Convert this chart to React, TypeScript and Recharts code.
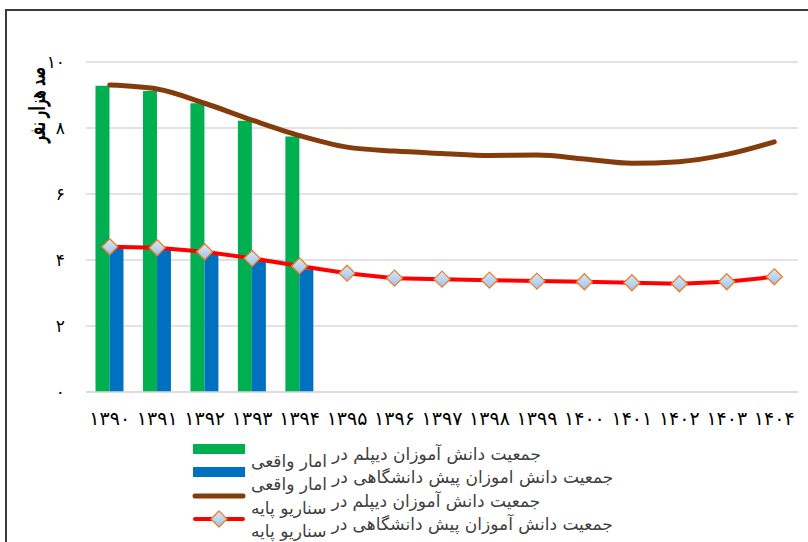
import React from 'react';
import { ComposedChart, Bar, Line, XAxis, YAxis, CartesianGrid } from 'recharts';

const years = ['۱۳۹۰', '۱۳۹۱', '۱۳۹۲', '۱۳۹۳', '۱۳۹۴', '۱۳۹۵', '۱۳۹۶', '۱۳۹۷', '۱۳۹۸', '۱۳۹۹', '۱۴۰۰', '۱۴۰۱', '۱۴۰۲', '۱۴۰۳', '۱۴۰۴'];
const diplomaActual = [9.28, 9.12, 8.75, 8.22, 7.74, null, null, null, null, null, null, null, null, null, null];
const preUniActual = [4.35, 4.3, 4.2, 3.98, 3.72, null, null, null, null, null, null, null, null, null, null];
const diplomaBase = [9.3, 9.18, 8.75, 8.24, 7.77, 7.42, 7.3, 7.23, 7.17, 7.18, 7.06, 6.93, 6.98, 7.2, 7.58];
const preUniBase = [4.4, 4.37, 4.25, 4.05, 3.82, 3.6, 3.45, 3.42, 3.39, 3.36, 3.34, 3.31, 3.28, 3.34, 3.49];
const yTicks = [0, 2, 4, 6, 8, 10];
const yTickLabels = ['۰', '۲', '۴', '۶', '۸', '۱۰'];
const yAxisTitle = 'صد هزار نفر';
const seriesNames = [
  'جمعیت دانش آموزان دیپلم در امار واقعی',
  'جمعیت دانش اموزان پیش دانشگاهی در امار واقعی',
  'جمعیت دانش آموزان دیپلم در سناریو پایه',
  'جمعیت دانش آموزان پیش دانشگاهی در سناریو پایه',
];
const seriesColors = ['#00B050', '#0070C0', '#843C0C', '#FF0000'];

const data = years.map((y, i) => ({
  year: y,
  diplomaActual: diplomaActual[i],
  preUniActual: preUniActual[i],
  diplomaBase: diplomaBase[i],
  preUniBase: preUniBase[i],
}));

const FONT = '"DejaVu Sans", sans-serif';

const Diamond = (props: any) => {
  const { cx, cy } = props;
  if (cx == null || cy == null) return null;
  const s = 8;
  return (
    <polygon
      points={`${cx},${cy - s} ${cx + s},${cy} ${cx},${cy + s} ${cx - s},${cy}`}
      fill="url(#diamondFill)"
      stroke="#ED7D31"
      strokeWidth={1.3}
    />
  );
};

const YTitle = (props: any) => {
  const vb = props.viewBox || {};
  const x = (vb.x ?? 0) + 37;
  const y = (vb.y ?? 0) + 43;
  return (
    <text
      x={x}
      y={y}
      transform={`rotate(-90, ${x}, ${y})`}
      textAnchor="middle"
      dominantBaseline="central"
      fontFamily={FONT}
      fontWeight="bold"
      fontSize={22}
      textLength={76}
      lengthAdjust="spacingAndGlyphs"
      fill="#000"
    >
      {yAxisTitle}
    </text>
  );
};

const LegendSwatch = ({ i }: { i: number }) => {
  if (i < 2) {
    return (
      <svg width={54} height={12} style={{ display: 'block' }}>
        <rect x={1} y={1} width={52} height={10} fill={seriesColors[i]} />
      </svg>
    );
  }
  if (i === 2) {
    return (
      <svg width={54} height={12} style={{ display: 'block' }}>
        <line x1={3} y1={6} x2={51} y2={6} stroke={seriesColors[i]} strokeWidth={5} strokeLinecap="round" />
      </svg>
    );
  }
  return (
    <svg width={54} height={18} style={{ display: 'block', marginTop: -3 }}>
      <defs>
        <linearGradient id="diamondFillLg" x1="0" y1="0" x2="0" y2="1">
          <stop offset="0%" stopColor="#DAE8F8" />
          <stop offset="100%" stopColor="#9DC3E6" />
        </linearGradient>
      </defs>
      <line x1={3} y1={9} x2={51} y2={9} stroke={seriesColors[i]} strokeWidth={4} strokeLinecap="round" />
      <polygon points="27,1 35,9 27,17 19,9" fill="url(#diamondFillLg)" stroke="#ED7D31" strokeWidth={1.3} />
    </svg>
  );
};

const splitName = (name: string) => {
  const k = name.lastIndexOf(' در ');
  return { main: name.slice(0, k + 3), tail: name.slice(k + 4) };
};

export default function App() {
  return (
    <div
      style={{
        position: 'fixed',
        left: 0,
        top: 0,
        width: 808,
        height: 542,
        overflow: 'hidden',
        background: '#fff',
      }}
    >
      <div
        style={{
          position: 'absolute',
          left: 5,
          top: 9,
          width: 900,
          height: 700,
          borderLeft: '2px solid #3a3a3a',
          borderTop: '2px solid #3a3a3a',
        }}
      />
      <div style={{ position: 'absolute', left: 0, top: 0 }}>
        <ComposedChart
          width={808}
          height={542}
          data={data}
          margin={{ top: 62, right: 10, left: 0, bottom: 120 }}
          barCategoryGap="20%"
          barGap={0}
        >
          <defs>
            <linearGradient id="diamondFill" x1="0" y1="0" x2="0" y2="1">
              <stop offset="0%" stopColor="#DAE8F8" />
              <stop offset="100%" stopColor="#9DC3E6" />
            </linearGradient>
          </defs>
          <CartesianGrid vertical={false} stroke="#D9D9D9" strokeWidth={1.5} />
          <XAxis
            dataKey="year"
            interval={0}
            height={30}
            tickLine={false}
            tickSize={0}
            tickMargin={20}
            axisLine={{ stroke: '#D9D9D9', strokeWidth: 1.5 }}
            tick={{ fontFamily: FONT, fontSize: 19, fill: '#000', letterSpacing: 2 }}
          />
          <YAxis
            domain={[0, 10]}
            ticks={yTicks}
            width={86}
            tickLine={false}
            tickSize={0}
            tickMargin={21}
            axisLine={false}
            tickFormatter={(v: number) => yTickLabels[yTicks.indexOf(v)]}
            tick={{ fontFamily: FONT, fontSize: 17, fill: '#000' }}
            label={<YTitle />}
          />
          <Bar dataKey="diplomaActual" name={seriesNames[0]} fill={seriesColors[0]} isAnimationActive={false} />
          <Bar dataKey="preUniActual" name={seriesNames[1]} fill={seriesColors[1]} isAnimationActive={false} />
          <Line
            dataKey="diplomaBase"
            name={seriesNames[2]}
            type="monotone"
            stroke={seriesColors[2]}
            strokeWidth={5}
            strokeLinecap="round"
            dot={false}
            activeDot={false}
            isAnimationActive={false}
          />
          <Line
            dataKey="preUniBase"
            name={seriesNames[3]}
            type="linear"
            stroke={seriesColors[3]}
            strokeWidth={4}
            dot={<Diamond />}
            activeDot={false}
            isAnimationActive={false}
          />
        </ComposedChart>
      </div>
      <div style={{ position: 'absolute', left: 192, top: 443 }}>
        {seriesNames.map((n, i) => {
          const { main, tail } = splitName(n);
          return (
            <div
              key={i}
              style={{
                display: 'flex',
                flexDirection: 'row',
                alignItems: 'flex-start',
                height: 23.3,
                fontFamily: FONT,
                fontSize: 17,
                color: '#404040',
                whiteSpace: 'nowrap',
              }}
            >
              <LegendSwatch i={i} />
              <span style={{ marginLeft: 5, marginTop: 8, lineHeight: '20px', direction: 'rtl' }}>{tail}</span>
              <span style={{ marginLeft: 5, marginTop: 1, lineHeight: '20px', direction: 'rtl' }}>{main}</span>
            </div>
          );
        })}
      </div>
    </div>
  );
}
